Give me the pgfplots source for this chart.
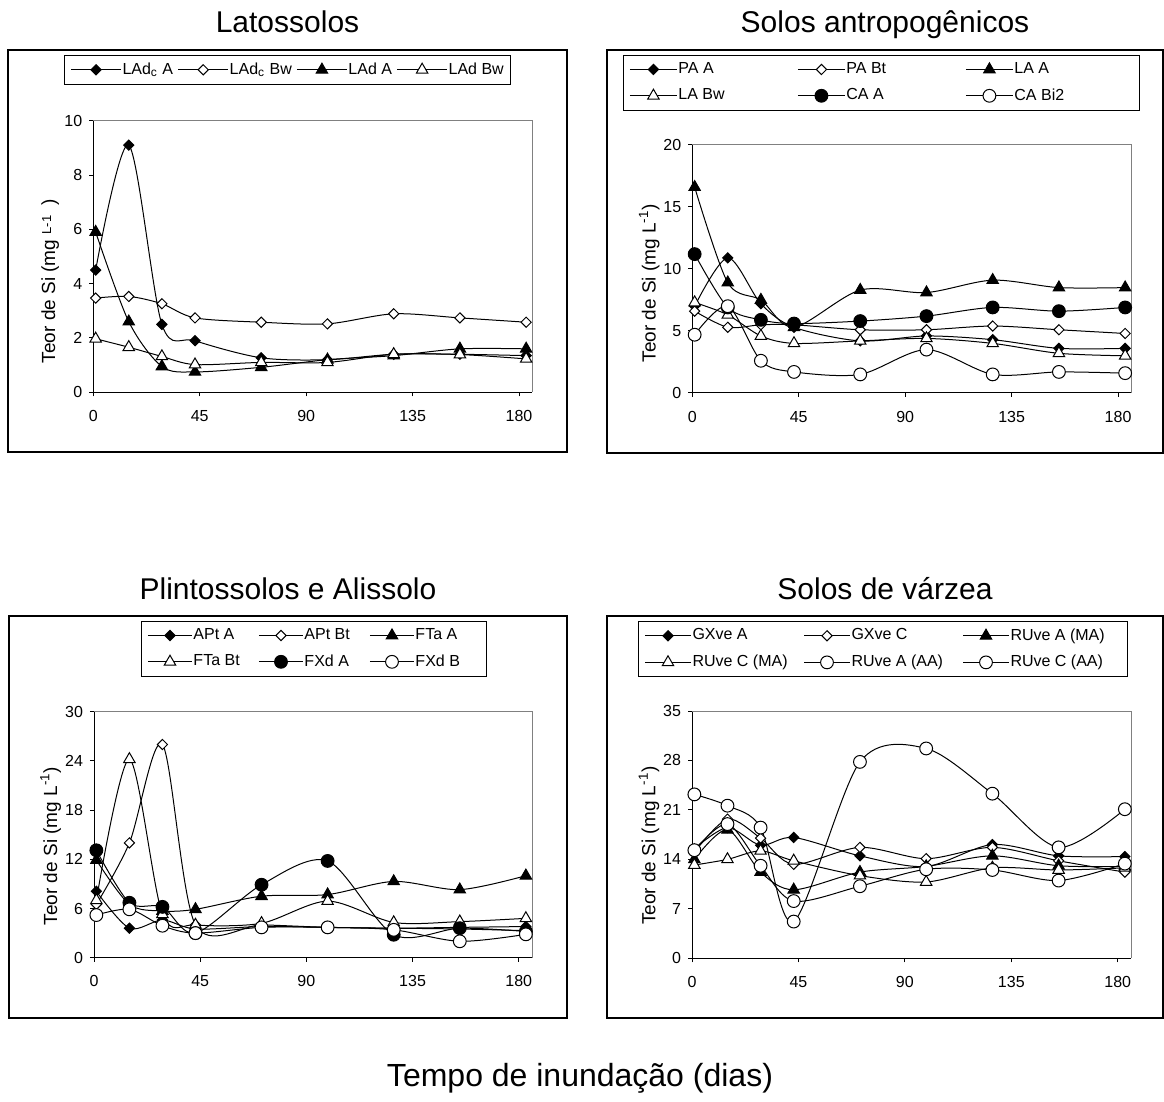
\documentclass[border=0pt]{standalone}
\usepackage{fontspec}
\setmainfont{Liberation Sans}
\usepackage{pgfplots}
\pgfplotsset{compat=1.18}
\pgfplotsset{
  panel/.style={
    scale only axis, xmin=0, xmax=185.6, ymin=0,
    axis x line=bottom, axis y line=left,
    axis line style={-, black, line width=0.5pt},
    tick align=outside, major tick length=2pt,
    tick style={black, line width=0.5pt},
    xtick={0,45,90,135,180},
    tick label style={font=\fontsize{8}{9}\selectfont},
    /pgf/number format/assume math mode=true,
    xticklabel style={yshift=-3.5pt},
    clip=false,
    legend cell align=left,
    legend style={draw=black, line width=0.5pt, font=\fontsize{8}{9}\selectfont,
      anchor=north west, inner xsep=3pt, inner ysep=2pt, row sep=3pt,
      nodes={inner xsep=0.5pt, inner ysep=1.5pt, text depth=0.15em}},
    ylabel style={font=\fontsize{9.5}{11}\selectfont, anchor=center},
  },
  ser/.style={black, line width=0.5pt, smooth},
  fd/.style={ser, mark=square*, mark size=1.8pt, mark options={rotate=45, fill=black, solid}},
  od/.style={ser, mark=square*, mark size=1.8pt, mark options={rotate=45, fill=white, solid}},
  ft/.style={ser, mark=triangle*, mark size=3.3pt, mark options={fill=black, solid}},
  ot/.style={ser, mark=triangle*, mark size=3.3pt, mark options={fill=white, solid}},
  fc/.style={ser, mark=*, mark size=3.2pt, mark options={fill=black, solid}},
  oc/.style={ser, mark=*, mark size=3.2pt, mark options={fill=white, solid}},
}
\begin{document}
\begin{tikzpicture}
\path[use as bounding box] (0pt,0pt) rectangle (582pt,-551pt);
% frames
\draw[line width=0.75pt] (4pt,-25pt) rectangle (283.5pt,-226pt);
\draw[line width=0.75pt] (303.5pt,-25pt) rectangle (581.5pt,-226.5pt);
\draw[line width=0.75pt] (4.5pt,-308pt) rectangle (283.5pt,-509pt);
\draw[line width=0.75pt] (303.5pt,-308pt) rectangle (581.5pt,-509pt);
% titles
\node[anchor=base, font=\fontsize{15}{18}\selectfont] at (143.75pt,-16.5pt) {Latossolos};
\node[anchor=base, font=\fontsize{15}{18}\selectfont] at (442.5pt,-16.5pt) {Solos antropogênicos};
\node[anchor=base, font=\fontsize{15}{18}\selectfont] at (144pt,-299.5pt) {Plintossolos e Alissolo};
\node[anchor=base, font=\fontsize{15}{18}\selectfont] at (442.5pt,-299.5pt) {Solos de várzea};
\node[anchor=base, font=\fontsize{16}{19}\selectfont] at (290pt,-543pt) {Tempo de inundação (dias)};

% ---------- Panel 1 ----------
\begin{axis}[panel, at={(46.65pt,-196.15pt)}, anchor=south west,
  width=219.5pt, height=135.8pt, ymax=10, ytick={0,2,...,10},
  ylabel={Teor de Si (mg \raisebox{2pt}{\fontsize{6.5}{7}\selectfont L-1}\ \ )},
  ylabel style={at={(axis description cs:-0.098,0.41)}},
  legend columns=4,
  legend style={at={(axis description cs:-0.0667,1.2419)},
    /tikz/every even column/.append style={column sep=1.8pt}},
  legend image code/.code={\draw[mark repeat=2, mark phase=2, #1] plot coordinates {(0pt,0pt) (12.5pt,0pt) (25pt,0pt)};},
]
\draw[gray, line width=0.5pt] (rel axis cs:0,1) -- (rel axis cs:1,1) -- (rel axis cs:1,0);
\addplot[fd] coordinates {(1,4.5) (15,9.1) (29,2.5) (43,1.9) (71,1.27) (99,1.2) (127,1.4) (155,1.4) (183,1.35)};
\addlegendentry{LAd\textsubscript{c} A}
\addplot[od] coordinates {(1,3.47) (15,3.53) (29,3.26) (43,2.74) (71,2.58) (99,2.52) (127,2.89) (155,2.74) (183,2.58)};
\addlegendentry{LAd\textsubscript{c} Bw}
\addplot[ft] coordinates {(1,5.9) (15,2.6) (29,0.95) (43,0.75) (71,0.92) (99,1.2) (127,1.35) (155,1.6) (183,1.6)};
\addlegendentry{LAd A}
\addplot[ot] coordinates {(1,1.97) (15,1.66) (29,1.32) (43,1.02) (71,1.1) (99,1.1) (127,1.4) (155,1.39) (183,1.23)};
\addlegendentry{LAd Bw}
\end{axis}

% ---------- Panel 2 ----------
\begin{axis}[panel, at={(346.15pt,-196.5pt)}, anchor=south west,
  width=219.5pt, height=124pt, ymax=20, ytick={0,5,...,20},
  ylabel={Teor de Si (mg L\textsuperscript{-1})},
  ylabel style={at={(axis description cs:-0.098,0.443)}},
  legend columns=3,
  legend style={at={(axis description cs:-0.158,1.363)}},
  legend image code/.code={\draw[mark repeat=2, mark phase=2, #1] plot coordinates {(0pt,0pt) (11.75pt,0pt) (23.5pt,0pt)};},
]
\draw[gray, line width=0.5pt] (rel axis cs:0,1) -- (rel axis cs:1,1) -- (rel axis cs:1,0);
\addplot[fd] coordinates {(1,7.0) (15,10.9) (29,7.2) (43,5.3) (71,4.2) (99,4.6) (127,4.3) (155,3.6) (183,3.6)};
\addlegendentry{\makebox[59pt][l]{PA A}}
\addplot[od] coordinates {(1,6.6) (15,5.3) (29,5.5) (43,5.5) (71,5.1) (99,5.1) (127,5.4) (155,5.1) (183,4.8)};
\addlegendentry{\makebox[59pt][l]{PA Bt}}
\addplot[ft] coordinates {(1,16.6) (15,8.9) (29,7.5) (43,5.3) (71,8.3) (99,8.1) (127,9.1) (155,8.5) (183,8.5)};
\addlegendentry{\makebox[59pt][l]{LA A}}
\addplot[ot] coordinates {(1,7.3) (15,6.3) (29,4.6) (43,4.0) (71,4.2) (99,4.4) (127,4.0) (155,3.2) (183,3.0)};
\addlegendentry{\makebox[59pt][l]{LA Bw}}
\addplot[fc] coordinates {(1,11.2) (15,6.9) (29,5.9) (43,5.6) (71,5.8) (99,6.2) (127,6.9) (155,6.6) (183,6.9)};
\addlegendentry{\makebox[59pt][l]{CA A}}
\addplot[oc] coordinates {(1,4.7) (15,7.0) (29,2.6) (43,1.7) (71,1.5) (99,3.5) (127,1.5) (155,1.7) (183,1.6)};
\addlegendentry{\makebox[59pt][l]{CA Bi2}}
\end{axis}

% ---------- Panel 3 ----------
\begin{axis}[panel, at={(47pt,-478.85pt)}, anchor=south west,
  width=219pt, height=123pt, ymax=30, ytick={0,6,...,30},
  ylabel={Teor de Si (mg L\textsuperscript{-1})},
  ylabel style={at={(axis description cs:-0.099,0.454)}},
  legend columns=3,
  legend style={at={(axis description cs:0.1073,1.3687)}},
  legend image code/.code={\draw[mark repeat=2, mark phase=2, #1] plot coordinates {(0pt,0pt) (11pt,0pt) (22pt,0pt)};},
]
\draw[gray, line width=0.5pt] (rel axis cs:0,1) -- (rel axis cs:1,1) -- (rel axis cs:1,0);
\addplot[fd] coordinates {(1,8.1) (15,3.6) (29,4.6) (43,3.5) (71,3.8) (99,3.7) (127,3.6) (155,3.7) (183,3.8)};
\addlegendentry{\makebox[32pt][l]{APt A}}
\addplot[od] coordinates {(1,6.5) (15,14.0) (29,26.0) (43,4.0) (71,4.0) (99,3.7) (127,3.6) (155,3.5) (183,3.3)};
\addlegendentry{\makebox[32pt][l]{APt Bt}}
\addplot[ft] coordinates {(1,11.9) (15,6.5) (29,5.7) (43,5.9) (71,7.5) (99,7.7) (127,9.3) (155,8.3) (183,10.0)};
\addlegendentry{\makebox[32pt][l]{FTa A}}
\addplot[ot] coordinates {(1,7.0) (15,24.2) (29,5.3) (43,4.0) (71,4.2) (99,6.9) (127,4.3) (155,4.4) (183,4.8)};
\addlegendentry{\makebox[32pt][l]{FTa Bt}}
\addplot[fc] coordinates {(1,13.1) (15,6.7) (29,6.2) (43,3.0) (71,8.9) (99,11.8) (127,2.8) (155,3.6) (183,3.2)};
\addlegendentry{\makebox[32pt][l]{FXd A}}
\addplot[oc] coordinates {(1,5.2) (15,5.9) (29,3.9) (43,3.0) (71,3.7) (99,3.7) (127,3.4) (155,2.0) (183,2.85)};
\addlegendentry{\makebox[32pt][l]{FXd B}}
\end{axis}

% ---------- Panel 4 ----------
\begin{axis}[panel, at={(346pt,-479.15pt)}, anchor=south west,
  width=219.5pt, height=123.65pt, ymax=35, ytick={0,7,...,35},
  ylabel={Teor de Si (mg L\textsuperscript{-1})},
  ylabel style={at={(axis description cs:-0.098,0.456)}},
  legend columns=3,
  legend style={at={(axis description cs:-0.123,1.364)}},
  legend image code/.code={\draw[mark repeat=2, mark phase=2, #1] plot coordinates {(0pt,0pt) (11.5pt,0pt) (23pt,0pt)};},
]
\draw[gray, line width=0.5pt] (rel axis cs:0,1) -- (rel axis cs:1,1) -- (rel axis cs:1,0);
\addplot[fd] coordinates {(1,15.5) (15,18.5) (29,16.0) (43,17.1) (71,14.5) (99,13.0) (127,16.1) (155,14.5) (183,14.4)};
\addlegendentry{\makebox[55pt][l]{GXve A}}
\addplot[od] coordinates {(1,15.0) (15,19.7) (29,17.0) (43,13.3) (71,15.7) (99,14.1) (127,15.7) (155,13.8) (183,12.2)};
\addlegendentry{\makebox[55pt][l]{GXve C}}
\addplot[ft] coordinates {(1,14.0) (15,18.2) (29,12.2) (43,9.7) (71,12.2) (99,13.0) (127,14.5) (155,13.1) (183,13.0)};
\addlegendentry{\makebox[55pt][l]{RUve A (MA)}}
\addplot[ot] coordinates {(1,13.2) (15,14.0) (29,15.2) (43,13.8) (71,11.7) (99,10.8) (127,12.8) (155,12.5) (183,12.8)};
\addlegendentry{\makebox[55pt][l]{RUve C (MA)}}
\addplot[oc] coordinates {(1,23.2) (15,21.6) (29,18.5) (43,5.2) (71,27.8) (99,29.7) (127,23.3) (155,15.7) (183,21.1)};
\addlegendentry{\makebox[55pt][l]{RUve A (AA)}}
\addplot[oc] coordinates {(1,15.3) (15,19.0) (29,13.1) (43,8.1) (71,10.2) (99,12.6) (127,12.5) (155,11.0) (183,13.4)};
\addlegendentry{\makebox[55pt][l]{RUve C (AA)}}
\end{axis}
\end{tikzpicture}
\end{document}
